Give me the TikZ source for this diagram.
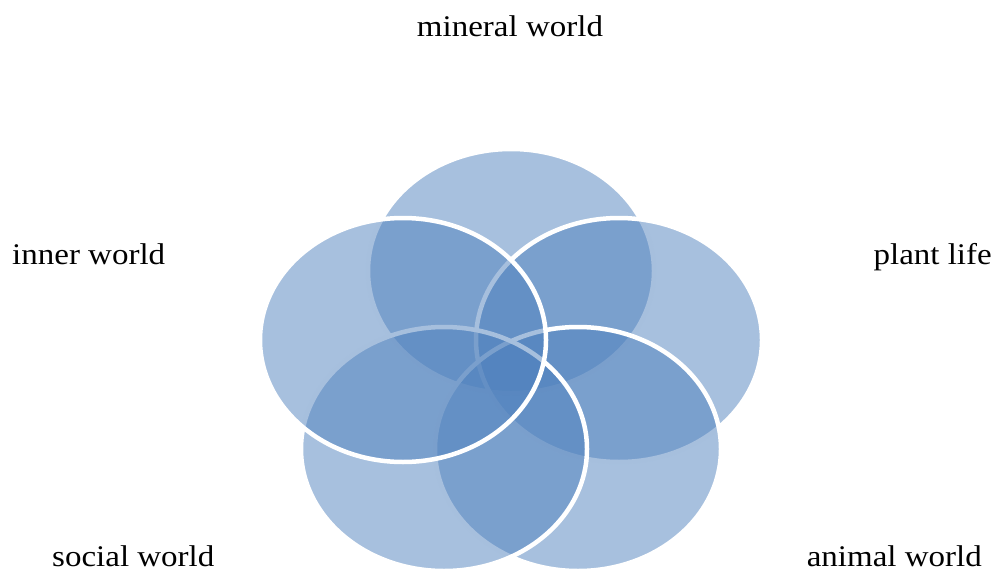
\documentclass[tikz,border=0pt]{standalone}
\usepackage{fontspec}
\setmainfont[FakeStretch=1.1]{Liberation Serif}
\usepackage{xcolor}
\usetikzlibrary{positioning, calc}
\definecolor{petalBlue}{RGB}{79,129,189}

\tikzset{
  petal/.style={fill=petalBlue, fill opacity=0.5, draw=white, draw opacity=1, line width=4.5pt},
  realm/.style={font=\fontsize{30}{34}\selectfont, inner sep=0pt, text depth=0pt}
}

\begin{document}
\begin{tikzpicture}[x=1pt, y=-1pt]
  \useasboundingbox (0,0) rectangle (995,572);
  % petal centres, pentagon round (511,372)
  \coordinate (mineral) at (511,271);
  \coordinate (plant) at (619,340);
  \coordinate (animal) at (578,449);
  \coordinate (social) at (444,449);
  \coordinate (inner) at (403,340);
  % petals, in drawing order
  \foreach \p in {mineral, plant, animal, social, inner}
    \draw[petal] (\p) ellipse (143 and 122);
  % labels
  \node[realm, anchor=base] (mineralLbl) at (510,37) {mineral world};
  \node[realm, anchor=base west] (innerLbl) at (12,264) {inner world};
  \node[realm, anchor=base east] (plantLbl) at (992,264) {plant life};
  \node[realm, anchor=base west] (socialLbl) at (52,566) {social world};
  \node[realm, anchor=base east] (animalLbl) at (982,566) {animal world};
\end{tikzpicture}
\end{document}
